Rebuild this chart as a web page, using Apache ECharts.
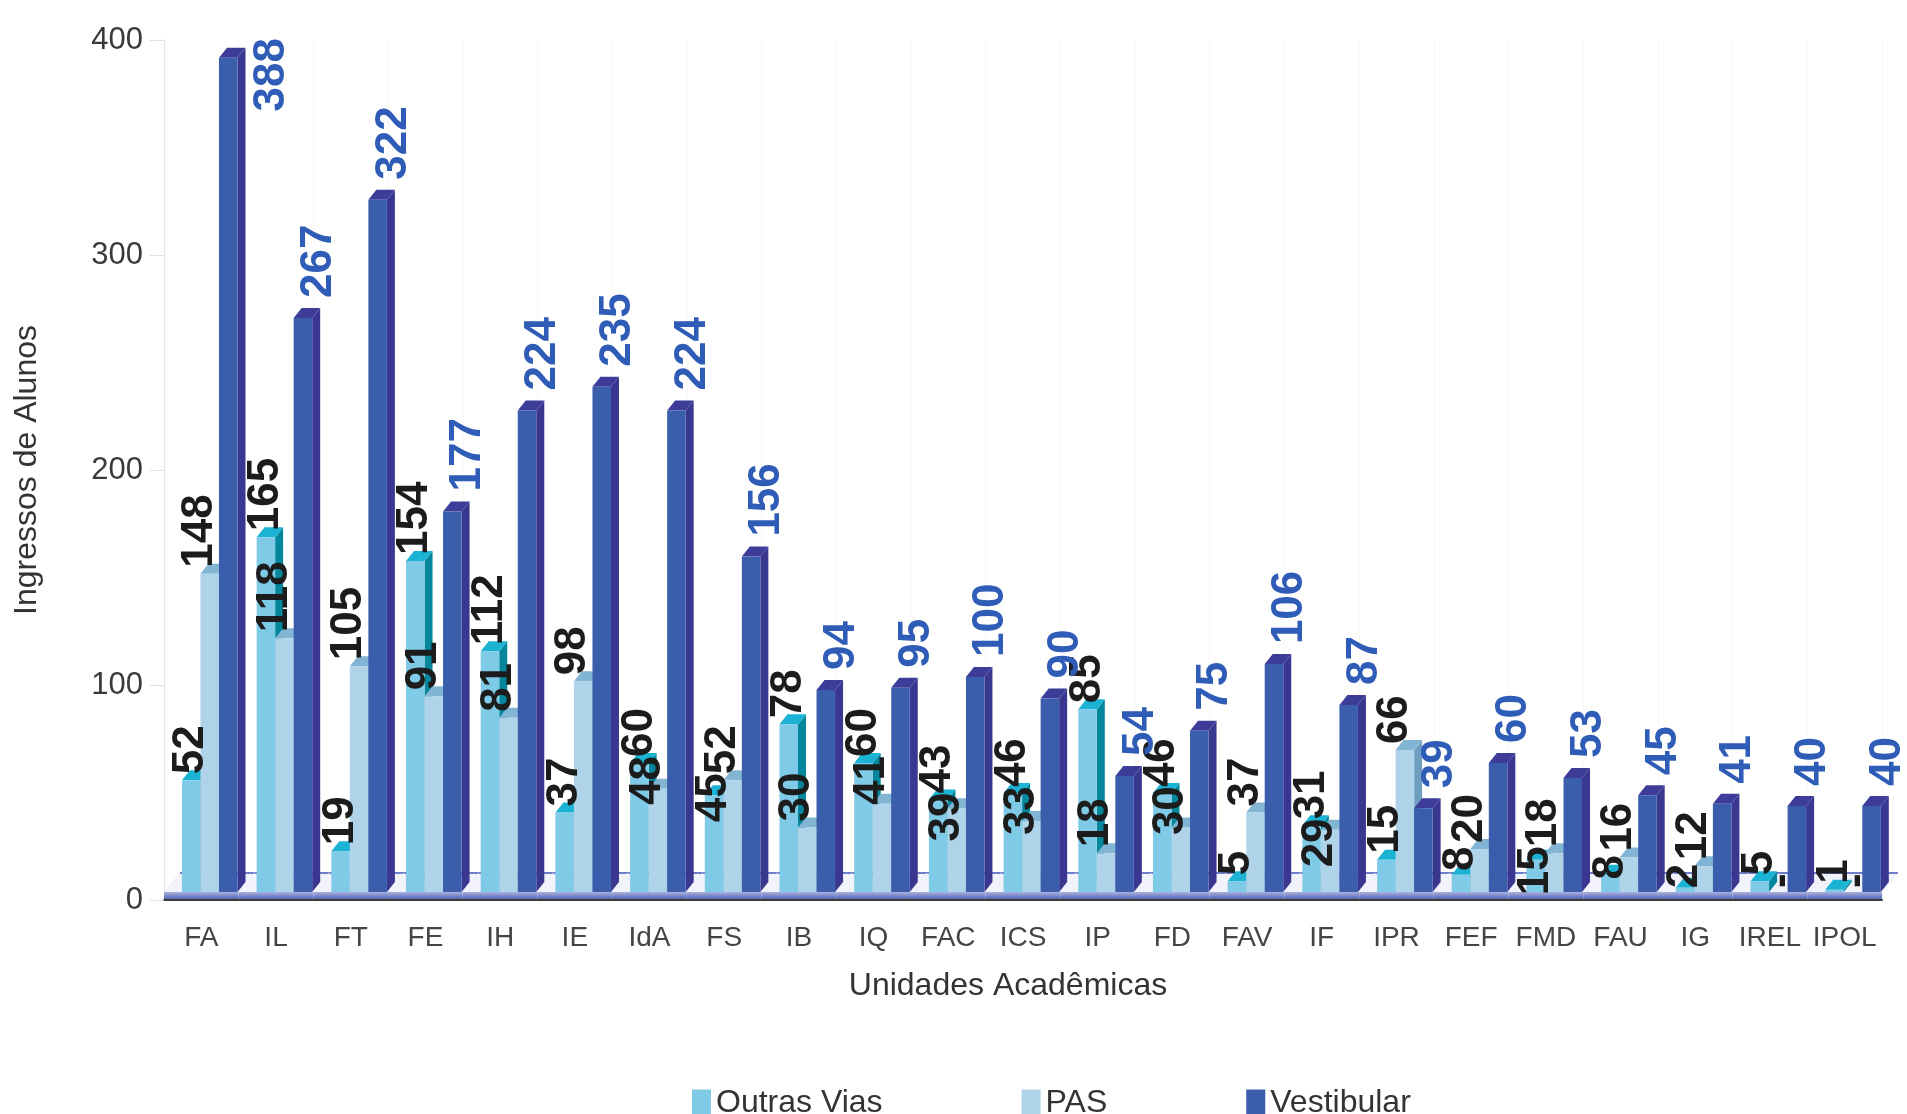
<!DOCTYPE html>
<html lang="pt">
<head>
    <meta charset="UTF-8">
    <script src="https://cdn.jsdelivr.net/npm/echarts@6/dist/echarts.min.js"></script>
    <style>
        html, body { margin: 0; padding: 0; background: #fff; }
        #chart { width: 1907px; height: 1114px; }
    </style>
    <title>Ingressos de Alunos</title>
</head>
<body>
<div id="chart"></div>
<script>
    // dados
    var categories = ['FA', 'IL', 'FT', 'FE', 'IH', 'IE', 'IdA', 'FS', 'IB', 'IQ', 'FAC', 'ICS', 'IP', 'FD', 'FAV', 'IF', 'IPR', 'FEF', 'FMD', 'FAU', 'IG', 'IREL', 'IPOL'];
    var outrasVias = [52, 165, 19, 154, 112, 37, 60, 45, 78, 60, 43, 46, 85, 46, 5, 31, 15, 8, 15, 8, 2, 5, 1];
    var pas        = [148, 118, 105, 91, 81, 98, 48, 52, 30, 41, 39, 33, 18, 30, 37, 29, 66, 20, 18, 16, 12, 0, 0];
    var vestibular = [388, 267, 322, 177, 224, 235, 224, 156, 94, 95, 100, 90, 54, 75, 106, 87, 39, 60, 53, 45, 41, 40, 40];
    var seriesNames = ['Outras Vias', 'PAS', 'Vestibular'];
    var yTicks = [0, 100, 200, 300, 400];

    /** cores das faces (frente, topo, lado) */
    var faces = [
        {front: '#7fcae6', top: '#1bb3d3', side: '#04879c', label: '#1c1c1c'},
        {front: '#afd4e9', top: '#82b4d3', side: '#6f9fbf', label: '#1c1c1c'},
        {front: '#3a5eab', top: '#3d3d99', side: '#39378f', label: '#2f5cb6'}
    ];
    var DX = 8, DY = 10, LIFT = 8, CHAR = 20, GAP = 8;

    // início (ponto de baixo) do rótulo vertical de Outras Vias / PAS
    function labelStart(api, i, s) {
        var base = api.coord([i, 0])[1] - LIFT;
        var vo = outrasVias[i], vp = pas[i];
        var so = api.coord([i, vo])[1] - LIFT - 6;
        var sp = api.coord([i, vp])[1] - LIFT - 6;
        if (!vo || !vp) return (s === 0 ? so : sp);
        var lo = String(vo).length * CHAR, lp = String(vp).length * CHAR;
        // evita sobreposição: o rótulo da barra menor desce
        if (vo >= vp) {
            if (sp - lp < so + GAP && sp > so - lo) sp = Math.min(so + GAP + lp, base + 10);
        } else {
            if (so - lo < sp + GAP && so > sp - lp) so = Math.min(sp + GAP + lo, base + 10);
        }
        return s === 0 ? so : sp;
    }

    function barRenderer(s) {
        return function (params, api) {
            var i = api.value(0), v = api.value(1);
            var band = api.size([1, 0])[0];
            var base = api.coord([i, 0]);
            var top = api.coord([i, v]);
            var bw = band * 0.248;
            var x0 = base[0] - band / 2 + band * 0.24 + s * bw;
            var x1 = x0 + bw;
            var yb = base[1] - LIFT, yt = top[1] - LIFT;
            var f = faces[s];
            var children = [];
            if (v > 0) {
                children.push(
                    {type: 'polygon', shape: {points: [[x1, yb], [x1 + DX, yb - DY], [x1 + DX, yt - DY], [x1, yt]]}, style: {fill: f.side}},
                    {type: 'polygon', shape: {points: [[x0, yt], [x1, yt], [x1 + DX, yt - DY], [x0 + DX, yt - DY]]}, style: {fill: f.top}},
                    {type: 'rect', shape: {x: x0, y: yt, width: bw, height: yb - yt}, style: {fill: f.front}}
                );
            }
            // rótulo vertical
            var txt = v > 0 ? String(v) : '-';
            var lx, ly, align = 'left';
            if (s < 2) {
                lx = (x0 + x1) / 2 - (s === 1 ? 10 : 0);
                ly = v > 0 ? labelStart(api, i, s) : yb - 4;
                if (v === 0) lx += 14;
            } else {
                lx = (x0 + x1) / 2 + 16;
                ly = yt - 20;
                if (ly - txt.length * CHAR < 36) {
                    lx += 28;
                    ly = 38;
                    align = 'right';
                }
            }
            children.push({
                type: 'text', x: lx, y: ly, rotation: Math.PI / 2, z2: 100,
                style: {
                    text: txt, fill: f.label, align: align, verticalAlign: 'middle',
                    fontSize: 44, fontWeight: 'bold',
                    fontFamily: '"Liberation Sans Narrow", "Liberation Sans", sans-serif'
                }
            });
            return {type: 'group', children: children};
        };
    }

    /** piso 3D */
    function floorRenderer(params, api) {
        var i = api.value(0);
        var band = api.size([1, 0])[0];
        var base = api.coord([i, 0]);
        var xl = base[0] - band / 2, xr = base[0] + band / 2;
        var yf = base[1] - LIFT, yback = yf - 19, dxf = 16;
        return {type: 'group', children: [
            {type: 'polygon', shape: {points: [[xl, yf], [xr, yf], [xr + dxf, yback], [xl + dxf, yback]]},
                style: {fill: '#f1f2fa', stroke: '#f1f2fa', lineWidth: 1}},
            {type: 'line', shape: {x1: xl + dxf, y1: yback, x2: xr + dxf, y2: yback},
                style: {stroke: '#6f7ecb', lineWidth: 2}},
            {type: 'rect', shape: {x: xl, y: yf, width: band, height: LIFT - 1},
                style: {fill: new echarts.graphic.LinearGradient(0, 0, 0, 1, [
                    {offset: 0, color: '#aab2e0'}, {offset: 1, color: '#5565b5'}
                ])}}
        ]};
    }

    var myChart = echarts.init(document.getElementById('chart'));
    var valueLists = [outrasVias, pas, vestibular];

    var series = [{
        type: 'custom',
        name: 'piso',
        renderItem: floorRenderer,
        data: categories.map(function (c, i) { return [i, 0]; }),
        encode: {x: 0, y: 1},
        silent: true
    }];
    valueLists.forEach(function (list, s) {
        series.push({
            type: 'custom',
            name: seriesNames[s],
            renderItem: barRenderer(s),
            itemStyle: {color: faces[s].front},
            data: list.map(function (v, i) { return [i, v]; }),
            encode: {x: 0, y: 1}
        });
    });

    var option = {
        animation: false,
        grid: {left: 164, right: 25, top: 40, bottom: 214},
        legend: {
            data: seriesNames,
            left: 687,
            top: 1082,
            icon: 'rect',
            itemWidth: 19,
            itemHeight: 27,
            itemGap: 139,
            textStyle: {fontSize: 32, color: '#333', fontFamily: '"Liberation Sans", Arial, sans-serif'}
        },
        xAxis: {
            type: 'category',
            data: categories,
            name: 'Unidades Acadêmicas',
            nameLocation: 'middle',
            nameGap: 70,
            nameTextStyle: {fontSize: 32, color: '#333', padding: [0, 30, 0, 0], fontFamily: '"Liberation Sans", Arial, sans-serif'},
            axisLine: {lineStyle: {color: '#3c3c3c', width: 2}},
            axisTick: {length: 14, lineStyle: {color: '#555'}},
            axisLabel: {interval: 0, fontSize: 28, color: '#444', margin: 24, fontFamily: '"Liberation Sans", Arial, sans-serif'},
            splitLine: {show: true, lineStyle: {color: '#f8f8f8'}}
        },
        yAxis: {
            type: 'value',
            min: yTicks[0],
            max: yTicks[yTicks.length - 1],
            interval: yTicks[1] - yTicks[0],
            name: 'Ingressos de Alunos',
            nameLocation: 'middle',
            nameGap: 121,
            nameTextStyle: {fontSize: 32, color: '#333', fontFamily: '"Liberation Sans", Arial, sans-serif'},
            axisLine: {show: true, lineStyle: {color: '#e6e6e6'}},
            axisTick: {show: true, length: 14, lineStyle: {color: '#e0e0e0'}},
            axisLabel: {fontSize: 31, color: '#3a3a3a', margin: 21, fontFamily: '"Liberation Sans", Arial, sans-serif'},
            splitLine: {show: false}
        },
        series: series
    };
    myChart.setOption(option);
</script>
</body>
</html>
